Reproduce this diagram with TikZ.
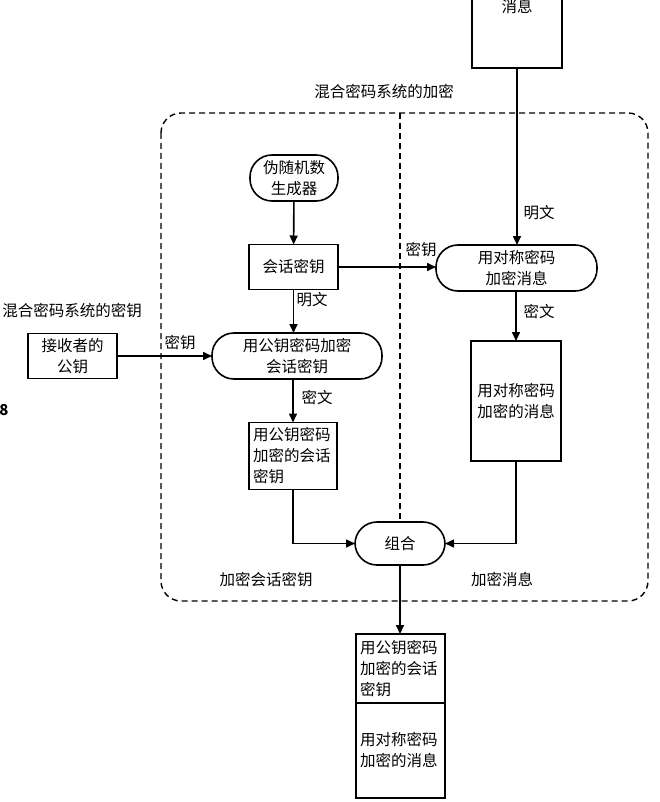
\documentclass[tikz,border=0pt]{standalone}
\usepackage{fontspec}
\setmainfont{Noto Sans CJK SC}
\usetikzlibrary{arrows.meta}
\begin{document}
\begin{tikzpicture}[x=1pt,y=-1pt,
  font=\fontsize{15.5}{21}\selectfont,
  box/.style={draw, line width=1.6pt, inner sep=0pt, outer sep=0pt, align=center},
  stad/.style={draw, line width=1.6pt, rounded corners=22pt, inner sep=0pt, outer sep=0pt, align=center},
  conn/.style={line width=1.6pt},
  arr/.style={conn, -{Triangle[length=9pt,width=8pt]}},
  dashline/.style={line width=1.4pt, dash pattern=on 6pt off 4pt},
  lbl/.style={inner sep=0pt}
]
\useasboundingbox (0,0) rectangle (660,802);
\fill[white] (0,0) rectangle (660,802);
\clip (0,0) rectangle (660,802);

% top message box (cut off at the top)
\node[box, minimum width=90pt, minimum height=120pt, anchor=south] (msg) at (517,68) {};
\node[lbl] (msgtxt) at (517,7) {消息};

% title and enclosing dashed frame
\node[lbl] (title) at (384,92) {混合密码系统的加密};
\draw[dashline, rounded corners=20pt] (161,113) rectangle (648,601);

% left column
\node[stad, minimum width=88pt, minimum height=46pt] (prng) at (294,178) {伪随机数\\生成器};
\node[box, minimum width=89pt, minimum height=45pt] (sk) at (293.5,267) {会话密钥};
\node[stad, minimum width=170pt, minimum height=46pt] (pkenc) at (297,356) {用公钥密码加密\\会话密钥};
\node[box, minimum width=88pt, minimum height=67pt, text width=80pt, align=left] (encsk) at (293,456) {用公钥密码\\加密的会话\\密钥};

% right column
\node[stad, minimum width=161pt, minimum height=46pt] (symenc) at (516.5,268) {用对称密码\\加密消息};
\node[box, minimum width=90pt, minimum height=120pt] (encmsg) at (516,401) {用对称密码\\加密的消息};

% combine
\node[stad, minimum width=90pt, minimum height=43pt] (comb) at (400,543.5) {组合};

% divider
\draw[dashline] (400,113) -- (comb.north);

% outside left
\node[lbl] (keysys) at (72,311) {混合密码系统的密钥};
\node[box, minimum width=89pt, minimum height=45pt] (recv) at (72.5,356) {接收者的\\公钥};
\node[lbl, font=\fontsize{15}{18}\selectfont\bfseries] (eight) at (4,410) {8};

% output boxes
\node[box, minimum width=89pt, minimum height=69pt, text width=81pt, align=left] (out1) at (400.5,668.5) {用公钥密码\\加密的会话\\密钥};
\node[box, minimum width=89pt, minimum height=95pt, text width=81pt, align=left, anchor=north] (out2) at (out1.south) {用对称密码\\加密的消息};

% connectors
\draw[arr] (prng) -- (sk);
\draw[arr] (sk.south) -- (sk.south |- pkenc.north);
\draw[arr] (sk.east) -- (symenc.west |- sk.east);
\draw[arr] (recv.east) -- (pkenc.west |- recv.east);
\draw[arr] (msg.south) -- (symenc.north -| msg.south);
\draw[arr] (symenc.south -| encmsg.north) -- (encmsg.north);
\draw[arr] (pkenc.south -| encsk.north) -- (encsk.north);
\draw[arr] (encsk.south) |- (comb.west);
\draw[arr] (encmsg.south) |- (comb.east);
\draw[arr] (comb.south) -- (out1.north -| comb.south);

% connector labels
\node[lbl] (l1) at (312,300) {明文};
\node[lbl] (l2) at (317,398) {密文};
\node[lbl] (l3) at (180,343) {密钥};
\node[lbl] (l4) at (421,250) {密钥};
\node[lbl] (l5) at (539,213) {明文};
\node[lbl] (l6) at (539,312) {密文};
\node[lbl] (l7) at (266,580) {加密会话密钥};
\node[lbl] (l8) at (502,580) {加密消息};
\end{tikzpicture}
\end{document}
